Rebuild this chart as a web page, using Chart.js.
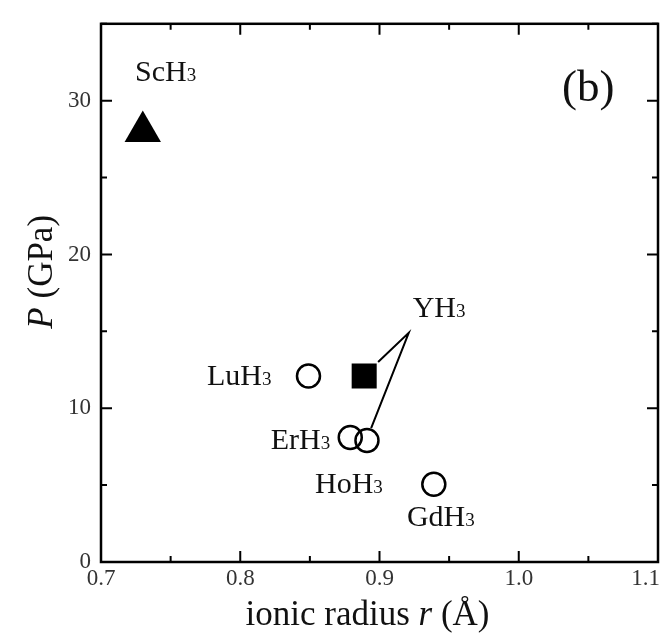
<!DOCTYPE html>
<html>
<head>
<meta charset="utf-8">
<script src="https://cdn.jsdelivr.net/npm/chart.js@4"></script>
<style>
  html, body { margin: 0; background: #fff; }
  #wrap { width: 662px; height: 637px; position: relative; }
</style>
</head>
<body>
<div id="wrap"><canvas id="myChart"></canvas></div>
<script>
// values
const compounds = ['ScH3', 'LuH3', 'YH3', 'ErH3', 'HoH3', 'GdH3'];
const ionicRadius = [0.730, 0.849, 0.889, 0.879, 0.891, 0.939];
const pressure = [28.0, 12.1, 12.1, 8.1, 7.9, 5.05];
const markers = ['triangle', 'circle', 'rect', 'circle', 'circle', 'circle'];

// leader line from the YH3 label to its two points
const leaderX = [0.899, 0.921, 0.894];
const leaderY = [13.0, 14.9, 8.7];

const xTickLabels = ['0.7', '0.8', '0.9', '1.0', '1.1'];
const yTickLabels = [0, 10, 20, 30];

// label anchors (left edge, baseline) in data units
const labelX = [0.7244, 0.7761, 0.9238, 0.8219, 0.8537, 0.9197];
const labelY = [31.27, 11.54, 15.93, 7.38, 4.50, 2.37];

const SERIF = '"Liberation Serif", "DejaVu Serif", serif';

function pts(style) {
    const out = [];
    compounds.forEach((c, i) => {
        if (markers[i] === style) out.push({ x: ionicRadius[i], y: pressure[i] });
    });
    return out;
}

function drawRuns(ctx, runs, x, y, align) {
    let total = 0;
    runs.forEach(r => { ctx.font = r.font; total += ctx.measureText(r.text).width; });
    let cx = align === 'center' ? x - total / 2 : x;
    ctx.textAlign = 'left';
    ctx.textBaseline = 'alphabetic';
    runs.forEach(r => {
        ctx.font = r.font;
        ctx.fillText(r.text, cx, y);
        cx += ctx.measureText(r.text).width;
    });
}

const frame = {
    id: 'frame',
    afterDatasetsDraw(chart) {
        const ctx = chart.ctx;
        const a = chart.chartArea;
        const xs = chart.scales.x, ys = chart.scales.y;
        ctx.save();
        ctx.strokeStyle = '#000';
        ctx.lineWidth = 2.5;
        ctx.strokeRect(a.left, a.top, a.right - a.left, a.bottom - a.top);

        ctx.lineWidth = 2;
        ctx.beginPath();
        xs.ticks.forEach(t => {
            const major = Math.abs(t.value * 10 - Math.round(t.value * 10)) < 1e-6;
            const len = major ? 11 : 6;
            const px = xs.getPixelForValue(t.value);
            ctx.moveTo(px, a.bottom); ctx.lineTo(px, a.bottom - len);
            ctx.moveTo(px, a.top); ctx.lineTo(px, a.top + len);
        });
        ys.ticks.forEach(t => {
            const major = t.value % 10 === 0;
            const len = major ? 11 : 6;
            const py = ys.getPixelForValue(t.value);
            ctx.moveTo(a.left, py); ctx.lineTo(a.left + len, py);
            ctx.moveTo(a.right, py); ctx.lineTo(a.right - len, py);
        });
        ctx.stroke();

        // x tick labels, kept inside the canvas at the right edge
        ctx.fillStyle = '#333';
        ctx.font = '23px ' + SERIF;
        ctx.textAlign = 'center';
        ctx.textBaseline = 'alphabetic';
        xTickLabels.forEach(l => {
            const w = ctx.measureText(l).width;
            let px = xs.getPixelForValue(parseFloat(l));
            px = Math.min(px, chart.width - w / 2 - 2);
            ctx.fillText(l, px, a.bottom + 23);
        });

        // axis titles
        ctx.fillStyle = '#111';
        drawRuns(ctx, [
            { text: 'ionic radius ', font: '35px ' + SERIF },
            { text: 'r', font: 'italic 35px ' + SERIF },
            { text: ' (Å)', font: '35px ' + SERIF }
        ], (a.left + a.right) / 2 - 12, a.bottom + 63, 'center');

        ctx.save();
        ctx.translate(52, a.top + 248);
        ctx.rotate(-Math.PI / 2);
        drawRuns(ctx, [
            { text: 'P', font: 'italic 35px ' + SERIF },
            { text: ' (GPa)', font: '35px ' + SERIF }
        ], 0, 0, 'center');
        ctx.restore();

        // compound labels
        compounds.forEach((c, i) => {
            drawRuns(ctx, [
                { text: c.slice(0, -1), font: '30px ' + SERIF },
                { text: c.slice(-1), font: '19px ' + SERIF }
            ], xs.getPixelForValue(labelX[i]), ys.getPixelForValue(labelY[i]), 'left');
        });

        ctx.font = '45px ' + SERIF;
        ctx.textAlign = 'left';
        ctx.fillText('(b)', a.right - 96, a.top + 77);
        ctx.restore();
    }
};

const ctx = document.getElementById('myChart').getContext('2d');

new Chart(ctx, {
    type: 'scatter',
    data: {
        datasets: [
            {
                data: pts('circle'),
                pointStyle: 'circle',
                pointRadius: 11.5,
                borderWidth: 2.5,
                borderColor: '#000',
                backgroundColor: 'rgba(0,0,0,0)',
                order: 1
            },
            {
                data: pts('rect'),
                pointStyle: 'rect',
                pointRadius: 17.7,
                borderWidth: 0,
                backgroundColor: '#000',
                order: 1
            },
            {
                data: pts('triangle'),
                pointStyle: 'triangle',
                pointRadius: 21,
                borderWidth: 0,
                backgroundColor: '#000',
                order: 1
            },
            {
                type: 'line',
                data: leaderX.map((x, i) => ({ x: x, y: leaderY[i] })),
                borderColor: '#000',
                borderWidth: 2,
                pointRadius: 0,
                fill: false,
                tension: 0,
                order: 5
            }
        ]
    },
    options: {
        responsive: true,
        maintainAspectRatio: false,
        animation: false,
        layout: {
            autoPadding: false,
            padding: { top: 15, right: 4, left: 0, bottom: 0 }
        },
        scales: {
            x: {
                type: 'linear',
                min: 0.7,
                max: 1.1,
                ticks: { stepSize: 0.05, display: false },
                grid: { display: false, drawTicks: false },
                border: { display: false },
                afterFit: s => { s.height = 75; }
            },
            y: {
                min: 0,
                max: 35,
                ticks: {
                    stepSize: 5,
                    padding: 10,
                    color: '#333',
                    font: { family: SERIF, size: 23 },
                    callback: v => (yTickLabels.includes(v) ? String(v) : '')
                },
                grid: { display: false, drawTicks: false },
                border: { display: false },
                afterFit: s => { s.width = 101; }
            }
        },
        plugins: {
            legend: { display: false },
            tooltip: { enabled: false }
        }
    },
    plugins: [frame]
});
</script>
</body>
</html>
